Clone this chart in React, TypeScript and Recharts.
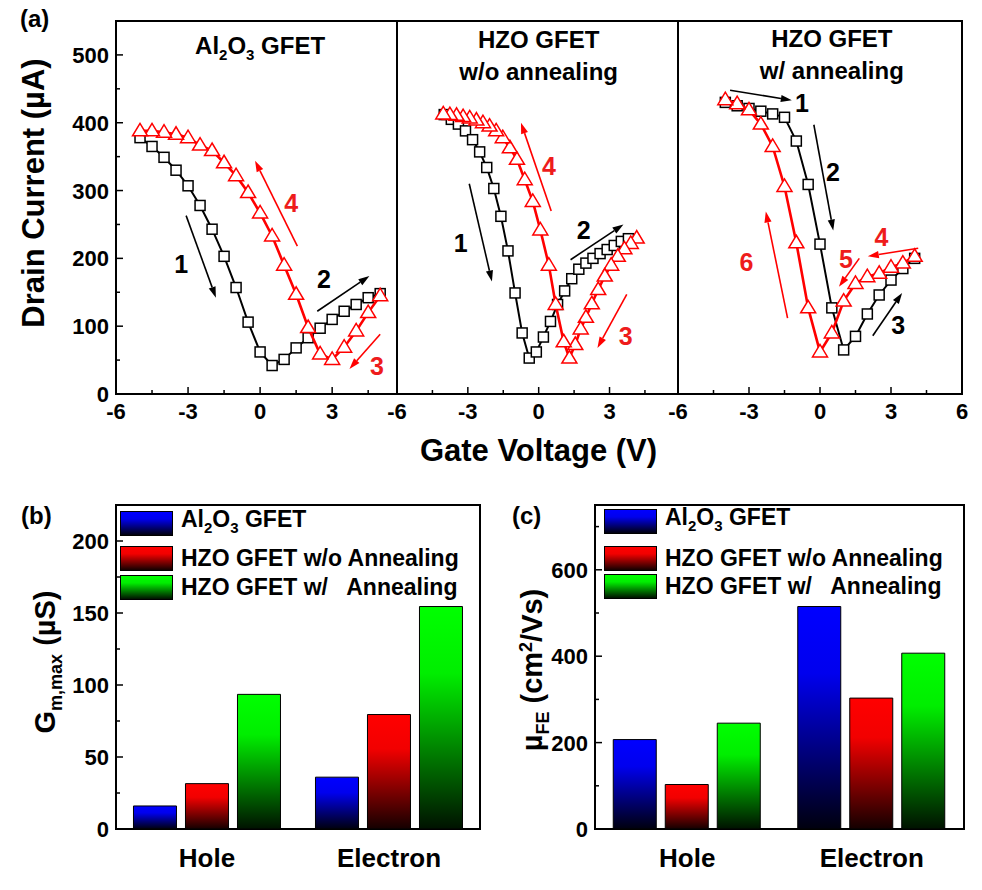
import React from "react";
import {
  ScatterChart,
  Scatter,
  XAxis,
  YAxis,
  ReferenceArea,
  ReferenceLine,
  ReferenceDot,
  BarChart,
  Bar,
  Legend,
} from "recharts";

const FONT = "'Liberation Sans', Arial, Helvetica, sans-serif";
const RED = "#ff0000";
const NOTE_RED = "#ee1c1c";

// ---------- (a) transfer curves: gate voltage (V) vs drain current (uA)
// Al2O3 GFET
const AL_FWD_V = [-5, -4.5, -4, -3.5, -3, -2.5, -2, -1.5, -1, -0.5, 0, 0.5, 1, 1.5, 2, 2.5, 3, 3.5, 4, 4.5, 5];
const AL_FWD_I = [378, 365, 349, 330, 307, 278, 243, 203, 157, 106, 62, 42, 51, 68, 83, 97, 110, 122, 132, 142, 148];
const AL_REV_V = [5, 4.5, 4, 3.5, 3, 2.5, 2, 1.5, 1, 0.5, 0, -0.5, -1, -1.5, -2, -2.5, -3, -3.5, -4, -4.5, -5];
const AL_REV_I = [145, 120, 93, 69, 51, 59, 98, 147, 190, 233, 267, 297, 322, 341, 359, 367, 378, 383, 386, 388, 388];

// HZO GFET w/o annealing
const WO_FWD_V = [-4.0, -3.7, -3.4, -3.1, -2.8, -2.5, -2.2, -1.9, -1.6, -1.3, -1.0, -0.7, -0.4, -0.1, 0.2, 0.5, 0.8, 1.1, 1.4, 1.7, 2.0, 2.3, 2.6, 2.9, 3.2, 3.5, 3.8];
const WO_FWD_I = [412, 405, 398, 388, 375, 357, 334, 303, 262, 211, 149, 90, 53, 62, 84, 107, 132, 152, 170, 184, 193, 200, 207, 213, 219, 225, 229];
const WO_REV_V = [4.15, 3.9, 3.63, 3.35, 3.07, 2.8, 2.52, 2.25, 2.0, 1.78, 1.55, 1.3, 1.06, 0.72, 0.43, 0.07, -0.25, -0.59, -0.92, -1.22, -1.52, -1.8, -2.08, -2.36, -2.64, -2.92, -3.2, -3.48, -3.76, -4.04];
const WO_REV_I = [230, 222, 214, 203, 190, 174, 154, 133, 113, 96, 73, 53, 77, 132, 190, 242, 284, 316, 346, 363, 378, 388, 395, 400, 404, 407, 409, 411, 412, 413];

// HZO GFET w/ annealing
const W_FWD_V = [-4, -3.5, -3, -2.5, -2, -1.5, -1, -0.5, 0, 0.5, 1, 1.5, 2, 2.5, 3, 3.5, 4];
const W_FWD_I = [430, 425, 421, 417, 413, 408, 373, 309, 221, 127, 65, 85, 118, 146, 168, 185, 200];
const W_REV_V = [4, 3.5, 3, 2.5, 2, 1.5, 1, 0.5, 0, -0.5, -1, -1.5, -2, -2.5, -3, -3.5, -4];
const W_REV_I = [203, 193, 187, 178, 173, 163, 137, 90, 62, 127, 223, 306, 365, 398, 419, 428, 434];

// sweep direction arrows [x1, y1, x2, y2, colour] and their numbers [text, x, y, colour]
const AL_ARROWS = [[-3.08, 263, -1.84, 142, "k"], [1.55, 218, -0.21, 344, "r"], [2.38, 122, 4.55, 174, "k"], [5.0, 88, 3.72, 37, "r"]];
const AL_NOTES = [["1", -3.29, 191, "k"], ["4", 1.3, 281, "r"], ["2", 2.66, 170, "k"], ["3", 4.87, 41, "r"]];
const WO_ARROWS = [[-2.94, 310, -1.98, 166, "k"], [0.53, 270, -0.75, 400, "r"], [1.35, 198, 3.59, 250, "k"], [3.73, 147, 2.49, 68, "r"]];
const WO_NOTES = [["1", -3.3, 223, "k"], ["4", 0.43, 336, "r"], ["2", 1.91, 242, "k"], ["3", 3.69, 85, "r"]];
const W_ARROWS = [[-3.8, 448, -1.19, 433, "k"], [-0.26, 397, 0.56, 241, "k"], [2.23, 86, 3.47, 149, "k"], [4.15, 215, 2.02, 203, "r"], [1.66, 200, 0.8, 158, "r"], [-1.37, 112, -2.29, 269, "r"]];
const W_NOTES = [["1", -0.76, 429, "k"], ["2", 0.55, 328, "k"], ["3", 3.3, 102, "k"], ["4", 2.6, 232, "r"], ["5", 1.1, 199, "r"], ["6", -3.11, 195, "r"]];

const X_TICKS = [-6, -4.5, -3, -1.5, 0, 1.5, 3, 4.5, 6];
const I_TICKS = [0, 50, 100, 150, 200, 250, 300, 350, 400, 450, 500];

// ---------- (b), (c) bars
const CATS = ["Hole", "Electron"];
const GM_AL = [16, 36];
const GM_WO = [31.5, 79.5];
const GM_W = [93.5, 154.5];
const MU_AL = [207, 515];
const MU_WO = [103, 303];
const MU_W = [245, 407];
const GM_TICKS = [0, 25, 50, 75, 100, 125, 150, 175, 200];
const MU_TICKS = [0, 100, 200, 300, 400, 500, 600, 700];

const SERIES = [
  { key: "al", name: "Al2O3 GFET", top: "#0000ff", mid: "#0000ee", bottom: "#00000e" },
  { key: "wo", name: "HZO GFET w/o Annealing", top: "#ff0000", mid: "#f20000", bottom: "#140000" },
  { key: "w", name: "HZO GFET w/   Annealing", top: "#00ff00", mid: "#00ee00", bottom: "#001200" },
];

const zip = (vs: number[], is: number[]) => vs.map((v, k) => ({ v, i: is[k] }));

const txt = (size: number, color = "#000") => ({
  fontSize: size,
  fontWeight: "bold" as const,
  fontFamily: FONT,
  fill: color,
});

const square = (p: any) => (
  <rect x={p.cx - 5} y={p.cy - 5} width={10} height={10} fill="#fff" stroke="#000" strokeWidth={1.5} />
);

const triangle = (p: any) => (
  <polygon
    points={`${p.cx},${p.cy - 7.5} ${p.cx - 7.5},${p.cy + 5} ${p.cx + 7.5},${p.cy + 5}`}
    fill="#fff"
    stroke={RED}
    strokeWidth={1.5}
  />
);

const arrowShape = (color: string) => (p: any) => {
  const { x1, y1, x2, y2 } = p;
  const a = Math.atan2(y2 - y1, x2 - x1);
  const L = 11;
  const W = 3.6;
  const bx = x2 - L * Math.cos(a);
  const by = y2 - L * Math.sin(a);
  const nx = -Math.sin(a);
  const ny = Math.cos(a);
  return (
    <g>
      <line x1={x1} y1={y1} x2={bx} y2={by} stroke={color} strokeWidth={1.6} />
      <polygon points={`${x2},${y2} ${bx + W * nx},${by + W * ny} ${bx - W * nx},${by - W * ny}`} fill={color} />
    </g>
  );
};

const xTick = (p: any) => {
  const v = p.payload.value as number;
  const major = Math.abs(v % 3) < 1e-6;
  return (
    <g>
      <line x1={p.x} x2={p.x} y1={p.y} y2={p.y - (major ? 7 : 4)} stroke="#000" strokeWidth={1.5} />
      {major && (
        <text x={p.x} y={p.y + 25} textAnchor="middle" {...txt(22)}>
          {v}
        </text>
      )}
    </g>
  );
};

const yTick = (step: number, labels: boolean) => (p: any) => {
  const v = p.payload.value as number;
  const major = v % step === 0;
  return (
    <g>
      <line x1={p.x} x2={p.x + (major ? 7 : 4)} y1={p.y} y2={p.y} stroke="#000" strokeWidth={1.5} />
      {labels && major && (
        <text x={p.x - 7} y={p.y + 8} textAnchor="end" {...txt(22)}>
          {v}
        </text>
      )}
    </g>
  );
};

function SweepPanel(props: {
  left: number;
  width: number;
  marginLeft: number;
  yWidth: number;
  domain: [number, number];
  fwd: { v: number; i: number }[];
  rev: { v: number; i: number }[];
  arrows: any[];
  notes: any[];
  title: { v: number; i: number; render: (x: number, y: number) => React.ReactNode };
  yLabels: boolean;
  yTitle?: boolean;
  xTitle?: boolean;
}) {
  const ticks = X_TICKS.filter((t) => t >= props.domain[0] && t <= props.domain[1]);
  return (
    <div style={{ position: "absolute", left: props.left, top: 0 }}>
      <ScatterChart
        width={props.width}
        height={475}
        margin={{ top: 21, right: 10, bottom: 51, left: props.marginLeft }}
      >
        <XAxis
          type="number"
          dataKey="v"
          domain={props.domain}
          ticks={ticks}
          interval={0}
          allowDataOverflow
          axisLine={false}
          tickLine={false}
          tickSize={0}
          tickMargin={0}
          height={30}
          tick={xTick}
          label={
            props.xTitle
              ? (lp: any) => (
                  <text
                    x={lp.viewBox.x + lp.viewBox.width / 2 + 1}
                    y={lp.viewBox.y + 67}
                    textAnchor="middle"
                    {...txt(31)}
                  >
                    Gate Voltage (V)
                  </text>
                )
              : undefined
          }
        />
        <YAxis
          type="number"
          dataKey="i"
          domain={[0, 550]}
          ticks={I_TICKS}
          interval={0}
          allowDataOverflow
          axisLine={false}
          tickLine={false}
          tickSize={0}
          tickMargin={0}
          width={props.yWidth}
          tick={yTick(100, props.yLabels)}
          label={
            props.yTitle
              ? () => (
                  <text x={44} y={193} transform="rotate(-90 44 193)" textAnchor="middle" {...txt(31)}>
                    Drain Current (µA)
                  </text>
                )
              : undefined
          }
        />
        <ReferenceArea
          x1={props.domain[0]}
          x2={props.domain[1]}
          y1={0}
          y2={550}
          fill="none"
          fillOpacity={0}
          stroke="#000"
          strokeWidth={2}
          ifOverflow="visible"
        />
        <Scatter data={props.fwd} shape={square} line={{ stroke: "#000", strokeWidth: 2 }} isAnimationActive={false} />
        <Scatter data={props.rev} shape={triangle} line={{ stroke: RED, strokeWidth: 2.6 }} isAnimationActive={false} />
        {props.arrows.map((a, k) => (
          <ReferenceLine
            key={`a${k}`}
            segment={[
              { x: a[0], y: a[1] },
              { x: a[2], y: a[3] },
            ]}
            ifOverflow="visible"
            shape={arrowShape(a[4] === "r" ? RED : "#000")}
          />
        ))}
        {props.notes.map((n, k) => (
          <ReferenceDot
            key={`n${k}`}
            x={n[1]}
            y={n[2]}
            r={1}
            ifOverflow="visible"
            shape={(p: any) => (
              <text x={p.cx} y={p.cy + 9} textAnchor="middle" {...txt(25, n[3] === "r" ? NOTE_RED : "#000")}>
                {n[0]}
              </text>
            )}
          />
        ))}
        <ReferenceDot
          x={props.title.v}
          y={props.title.i}
          r={1}
          ifOverflow="visible"
          shape={(p: any) => <g>{props.title.render(p.cx, p.cy)}</g>}
        />
      </ScatterChart>
    </div>
  );
}

const legendBlock = (rowTops: number[]) => () => (
  <div style={{ position: "relative", width: 370, height: 95, fontFamily: FONT }}>
    {SERIES.map((s, k) => (
      <div
        key={s.key}
        style={{
          position: "absolute",
          left: 0,
          top: rowTops[k],
          display: "flex",
          alignItems: "center",
          height: 25,
          whiteSpace: "pre",
        }}
      >
        <div
          style={{
            width: 53,
            height: 25,
            boxSizing: "border-box",
            border: "1px solid #000",
            background: `linear-gradient(to bottom, ${s.top} 0%, ${s.mid} 30%, ${s.bottom} 100%)`,
          }}
        />
        <span style={{ marginLeft: 8, fontSize: 23, fontWeight: "bold", lineHeight: "25px", color: "#000" }}>
          {s.key === "al" ? (
            <>
              Al<sub style={{ fontSize: 15 }}>2</sub>O<sub style={{ fontSize: 15 }}>3</sub> GFET
            </>
          ) : (
            s.name
          )}
        </span>
      </div>
    ))}
  </div>
);

const catTick = (p: any) => (
  <text x={p.x} y={p.y + 38} textAnchor="middle" {...txt(26)}>
    {p.payload.value}
  </text>
);

function BarPanel(props: {
  left: number;
  width: number;
  yWidth: number;
  idp: string;
  vals: number[][];
  domain: [number, number];
  ticks: number[];
  step: number;
  gap: string;
  legendPos: { left: number; top: number };
  rowTops: number[];
  yTitle: (x: number, y: number) => React.ReactNode;
}) {
  const rows = CATS.map((c, k) => ({
    cat: c,
    al: props.vals[0][k],
    wo: props.vals[1][k],
    w: props.vals[2][k],
  }));
  return (
    <div style={{ position: "absolute", left: props.left, top: 490 }}>
      <BarChart
        width={props.width}
        height={400}
        data={rows}
        margin={{ top: 15, right: 10, bottom: 11, left: 0 }}
        barCategoryGap={props.gap}
        barGap={9}
      >
        <defs>
          {SERIES.map((s) => (
            <linearGradient key={s.key} id={props.idp + s.key} x1="0" y1="0" x2="0" y2="1">
              <stop offset="0%" stopColor={s.top} />
              <stop offset="30%" stopColor={s.mid} />
              <stop offset="100%" stopColor={s.bottom} />
            </linearGradient>
          ))}
        </defs>
        <XAxis
          dataKey="cat"
          height={50}
          interval={0}
          axisLine={false}
          tickLine={false}
          tickSize={0}
          tickMargin={0}
          tick={catTick}
        />
        <YAxis
          type="number"
          domain={props.domain}
          ticks={props.ticks}
          interval={0}
          allowDataOverflow
          axisLine={false}
          tickLine={false}
          tickSize={0}
          tickMargin={0}
          width={props.yWidth}
          tick={yTick(props.step, true)}
          label={() => props.yTitle(0, 0)}
        />
        {SERIES.map((s) => (
          <Bar
            key={s.key}
            dataKey={s.key}
            name={s.name}
            fill={`url(#${props.idp}${s.key})`}
            stroke="#000"
            strokeWidth={1}
            isAnimationActive={false}
          />
        ))}
        <ReferenceArea
          y1={props.domain[0]}
          y2={props.domain[1]}
          fill="none"
          fillOpacity={0}
          stroke="#000"
          strokeWidth={2}
          ifOverflow="visible"
        />
        <Legend
          layout="vertical"
          align="center"
          verticalAlign="middle"
          content={legendBlock(props.rowTops)}
          wrapperStyle={{ left: props.legendPos.left, top: props.legendPos.top, width: "auto" }}
        />
      </BarChart>
    </div>
  );
}

const alTitle = (x: number, y: number) => (
  <text x={x} y={y} textAnchor="middle" {...txt(24)}>
    <tspan>Al</tspan>
    <tspan fontSize={15} dy={6}>2</tspan>
    <tspan dy={-6}>O</tspan>
    <tspan fontSize={15} dy={6}>3</tspan>
    <tspan dy={-6}>{"\u00a0GFET"}</tspan>
  </text>
);

const twoLine = (l1: string, l2: string) => (x: number, y: number) => (
  <g>
    <text x={x} y={y} textAnchor="middle" {...txt(24)}>
      {l1}
    </text>
    <text x={x} y={y + 32} textAnchor="middle" {...txt(24)}>
      {l2}
    </text>
  </g>
);

export default function App() {
  return (
    <div
      style={{
        position: "absolute",
        left: 0,
        top: 0,
        width: 982,
        height: 890,
        background: "#fff",
        overflow: "hidden",
      }}
    >
      <SweepPanel
        left={0}
        width={407}
        marginLeft={0}
        yWidth={116}
        domain={[-6, 5.7]}
        fwd={zip(AL_FWD_V, AL_FWD_I)}
        rev={zip(AL_REV_V, AL_REV_I)}
        arrows={AL_ARROWS}
        notes={AL_NOTES}
        title={{ v: 0, i: 501, render: alTitle }}
        yLabels
        yTitle
      />
      <SweepPanel
        left={387}
        width={301}
        marginLeft={10}
        yWidth={0}
        domain={[-6, 5.9]}
        fwd={zip(WO_FWD_V, WO_FWD_I)}
        rev={zip(WO_REV_V, WO_REV_I)}
        arrows={WO_ARROWS}
        notes={WO_NOTES}
        title={{ v: 0, i: 510, render: twoLine("HZO GFET", "w/o annealing") }}
        yLabels={false}
        xTitle
      />
      <SweepPanel
        left={668}
        width={304}
        marginLeft={10}
        yWidth={0}
        domain={[-6, 6]}
        fwd={zip(W_FWD_V, W_FWD_I)}
        rev={zip(W_REV_V, W_REV_I)}
        arrows={W_ARROWS}
        notes={W_NOTES}
        title={{ v: 0.5, i: 512, render: twoLine("HZO GFET", "w/ annealing") }}
        yLabels={false}
      />

      <BarPanel
        left={0}
        width={490}
        yWidth={116}
        idp="gb"
        vals={[GM_AL, GM_WO, GM_W]}
        domain={[0, 225]}
        ticks={GM_TICKS}
        step={50}
        gap="9.6%"
        legendPos={{ left: 120, top: 21 }}
        rowTops={[0, 35, 64]}
        yTitle={() => (
          <text x={55} y={172} transform="rotate(-90 55 172)" textAnchor="middle" {...txt(29)}>
            <tspan>G</tspan>
            <tspan fontSize={18} dy={7}>m,max</tspan>
            <tspan dy={-7}>{"\u00a0(µS)"}</tspan>
          </text>
        )}
      />
      <BarPanel
        left={480}
        width={494}
        yWidth={115}
        idp="gc"
        vals={[MU_AL, MU_WO, MU_W]}
        domain={[0, 750]}
        ticks={MU_TICKS}
        step={200}
        gap="9.9%"
        legendPos={{ left: 124, top: 19 }}
        rowTops={[0, 37, 65]}
        yTitle={() => (
          <text x={62} y={180} transform="rotate(-90 62 180)" textAnchor="middle" {...txt(29)}>
            <tspan>µ</tspan>
            <tspan fontSize={18} dy={7}>FE</tspan>
            <tspan dy={-7}>{"\u00a0(cm"}</tspan>
            <tspan fontSize={18} dy={-10}>2</tspan>
            <tspan dy={10}>/Vs)</tspan>
          </text>
        )}
      />

      <svg
        width={982}
        height={890}
        style={{ position: "absolute", left: 0, top: 0, pointerEvents: "none" }}
      >
        <text x={20} y={27} {...txt(24)}>(a)</text>
        <text x={21} y={524} {...txt(24)}>(b)</text>
        <text x={512} y={524} {...txt(24)}>(c)</text>
      </svg>
    </div>
  );
}
